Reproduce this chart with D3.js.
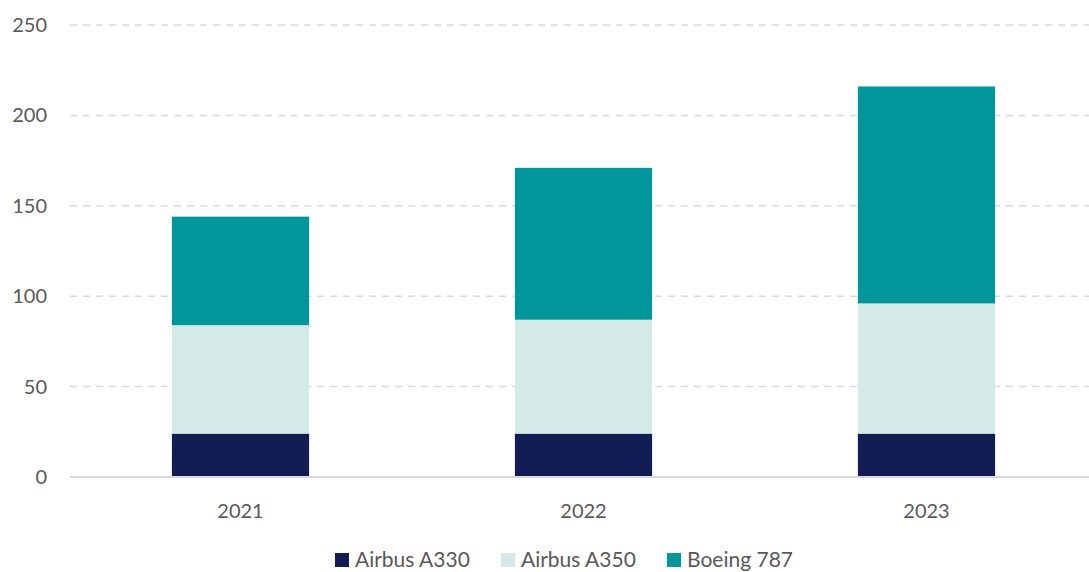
<!DOCTYPE html>
<html><head><meta charset="utf-8">
<script src="https://cdn.jsdelivr.net/npm/d3@7"></script>
<style>
body{margin:0;background:#fff;}
text{font-family:Lato,"Open Sans",sans-serif;fill:#595959;}
</style></head>
<body><svg id="c" width="1089" height="572"></svg>
<script>
const years = ["2021","2022","2023"];
const seriesNames = ["Airbus A330","Airbus A350","Boeing 787"];
const a330 = [24,24,24];
const a350 = [60,63,72];
const b787 = [60,84,120];
const yTicks = [0,50,100,150,200,250];
const colors = ["#131c55","#d4eae6","#00969b"];

const svg = d3.select("#c");
const rows = years.map((y,i)=>({year:y,"Airbus A330":a330[i],"Airbus A350":a350[i],"Boeing 787":b787[i]}));
const stack = d3.stack().keys(seriesNames)(rows);

const x = d3.scaleBand().domain(years).range([69,1098]).paddingInner(0.6).paddingOuter(0.3);
const y = d3.scaleLinear().domain([0,250]).range([477,25]);

// gridlines
svg.append("g").selectAll("line").data(yTicks.filter(d=>d>0)).join("line")
  .attr("x1",70).attr("x2",1089).attr("y1",d=>y(d)).attr("y2",d=>y(d))
  .attr("stroke","#d9d9d9").attr("stroke-width",1.5).attr("stroke-dasharray","7,6");

// y labels
svg.append("g").selectAll("text").data(yTicks).join("text")
  .attr("x",47).attr("y",d=>y(d)).attr("dy","0.35em").attr("text-anchor","end")
  .style("font-size","20px").text(d=>d);

// bars
svg.append("g").selectAll("g").data(stack).join("g")
  .attr("fill",(d,i)=>colors[i])
  .selectAll("rect").data(d=>d).join("rect")
  .attr("x",d=>x(d.data.year)).attr("width",x.bandwidth())
  .attr("y",d=>y(d[1])).attr("height",d=>y(d[0])-y(d[1]));

// axis line
svg.append("line").attr("x1",70).attr("x2",1089).attr("y1",y(0)).attr("y2",y(0))
  .attr("stroke","#d9d9d9").attr("stroke-width",2);

// x labels
svg.append("g").selectAll("text").data(years).join("text")
  .attr("x",d=>x(d)+x.bandwidth()/2).attr("y",518).attr("text-anchor","middle")
  .style("font-size","20px").text(d=>d);

// legend
const legX = [335,501,667];
const lg = svg.append("g").selectAll("g").data(seriesNames).join("g")
  .attr("transform",(d,i)=>`translate(${legX[i]},0)`);
lg.append("rect").attr("x",0).attr("y",553).attr("width",14).attr("height",14).attr("fill",(d,i)=>colors[i]);
lg.append("text").attr("x",20).attr("y",567).style("font-size","21px").text(d=>d);
</script></body></html>
